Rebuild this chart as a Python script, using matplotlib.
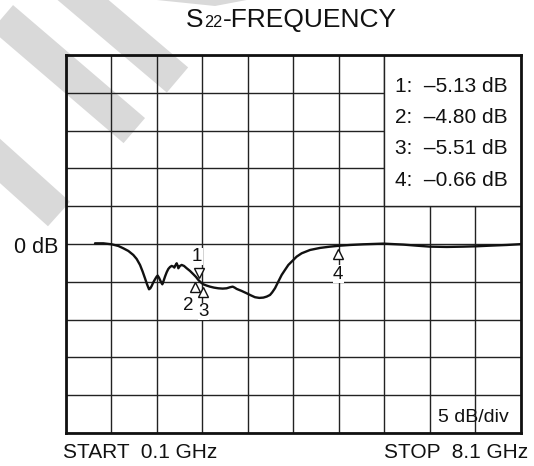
import numpy as np
import matplotlib
matplotlib.use("Agg")
import matplotlib.pyplot as plt
from matplotlib.patches import Polygon, Rectangle
from matplotlib.transforms import ScaledTranslation

# ---------------- data ----------------
freq_ghz = [0.615, 0.761, 0.908, 1.025, 1.113, 1.201, 1.288, 1.347, 1.406, 1.452,
            1.493, 1.529, 1.564, 1.587, 1.611, 1.640, 1.669, 1.698, 1.716, 1.739,
            1.757, 1.780, 1.798, 1.816, 1.845, 1.874, 1.903, 1.933, 1.962, 1.991,
            2.009, 2.032, 2.050, 2.067, 2.079, 2.108, 2.138, 2.179, 2.226, 2.284,
            2.343, 2.390, 2.430, 2.471, 2.518, 2.577, 2.635, 2.706, 2.782, 2.858,
            2.928, 2.987, 3.034, 3.069, 3.104, 3.192, 3.280, 3.350, 3.426, 3.502,
            3.573, 3.631, 3.690, 3.728, 3.778, 3.836, 3.895, 3.953, 4.012, 4.100,
            4.158, 4.246, 4.393, 4.568, 4.744, 4.920, 5.095, 5.330, 5.681, 6.033,
            6.267, 6.501, 6.794, 7.087, 7.321, 7.555, 7.848, 8.100]
s22_db = [0.09, 0.09, -0.04, -0.26, -0.57, -0.92, -1.45, -1.98, -2.77, -3.65,
          -4.53, -5.33, -5.99, -5.86, -5.55, -5.06, -4.67, -4.31, -4.18, -4.45,
          -4.75, -5.11, -5.33, -4.97, -4.31, -3.74, -3.30, -3.04, -2.90, -2.99,
          -3.12, -2.77, -2.55, -2.86, -3.21, -2.90, -2.77, -2.90, -3.21, -3.56,
          -4.00, -4.36, -4.75, -5.06, -5.33, -5.50, -5.64, -5.77, -5.86, -5.90,
          -5.86, -5.72, -5.64, -5.77, -5.94, -6.21, -6.52, -6.78, -7.04, -7.13,
          -7.09, -6.96, -6.74, -6.40, -5.85, -4.97, -4.09, -3.43, -2.77, -2.11,
          -1.67, -1.23, -0.79, -0.52, -0.35, -0.22, -0.13, -0.04, 0.05, -0.08,
          -0.22, -0.35, -0.39, -0.35, -0.30, -0.22, -0.13, -0.02]

marker_ids = ["1", "2", "3", "4"]
marker_freq_ghz = [2.44, 2.38, 2.51, 4.88]
marker_pos_db = [-4.53, -4.97, -5.63, -0.57]
marker_readout_db = [-5.13, -4.80, -5.51, -0.66]
marker_pointing = ["down", "up", "up", "up"]

start_ghz, stop_ghz = 0.1, 8.1
ref_db, db_per_div, n_div = 0, 5, 10

title_parts = ["S", "22", "-FREQUENCY"]
start_label = "START  0.1 GHz"
stop_label = "STOP  8.1 GHz"
ref_label = "0 dB"
scale_label = "5 dB/div"

# ---------------- figure ----------------
plt.rcParams["font.family"] = ["Liberation Sans", "DejaVu Sans"]
W, H = 534, 466
fig = plt.figure(figsize=(W / 100, H / 100), dpi=100)
INK = "#111111"


def fx(px):
    return px / W


def fy(py):
    return 1 - py / H


# watermark stripes (behind everything)
stripe_color = "#d9d9d9"
stripe_lines = [((63, -17), (177.5, 80)), ((2.3, 17.6), (134.3, 130.6)), ((-40, 125), (59, 214))]
stripe_w = 33
for p0, p1 in stripe_lines:
    p0 = np.array(p0, float)
    p1 = np.array(p1, float)
    d = (p1 - p0) / np.linalg.norm(p1 - p0)
    n = np.array([-d[1], d[0]]) * stripe_w / 2
    pts = [p0 + n, p1 + n, p1 - n, p0 - n]
    fig.patches.append(Polygon([(fx(x), fy(y)) for x, y in pts], closed=True,
                               transform=fig.transFigure, fc=stripe_color, ec="none", zorder=-5))
wedge = [(147, -1), (215, 6), (252, -1)]
fig.patches.append(Polygon([(fx(x), fy(y)) for x, y in wedge], closed=True,
                           transform=fig.transFigure, fc=stripe_color, ec="none", zorder=-5))

L, R, T, B = 65.7, 521, 55, 433
ax = fig.add_axes([fx(L), fy(B), fx(R) - fx(L), fy(T) - fy(B)])
ax.set_facecolor("none")
ax.set_xlim(start_ghz, stop_ghz)
lo, hi = ref_db - db_per_div * n_div / 2, ref_db + db_per_div * n_div / 2
ax.set_ylim(lo, hi)
ax.set_xticks(np.linspace(start_ghz, stop_ghz, n_div + 1))
ax.set_yticks(np.linspace(lo, hi, n_div + 1))
ax.tick_params(length=0, labelbottom=False, labelleft=False)
ax.set_axisbelow(True)
ax.grid(True, color="#222222", lw=1.0)
for s in ax.spines.values():
    s.set_linewidth(2.0)
    s.set_color(INK)

# marker readout box (upper right, 3 x 4 divisions)
xdiv = (stop_ghz - start_ghz) / n_div
box = Rectangle((stop_ghz - 3 * xdiv, ref_db + db_per_div), 3 * xdiv, 4 * db_per_div,
                fc="white", ec="#222222", lw=1.0, zorder=1)
ax.add_patch(box)

# trace
ax.plot(freq_ghz, s22_db, color=INK, lw=1.7, zorder=3,
        solid_capstyle="round", solid_joinstyle="round")

# markers
ms = 7.8
label_offsets = {"1": (-1.2, 15.5), "2": (-5.3, -17.4), "3": (0.4, -17.8), "4": (0.4, -18.6)}
for mid, f, v, p in zip(marker_ids, marker_freq_ghz, marker_pos_db, marker_pointing):
    if p == "down":
        tr = ax.transData + ScaledTranslation(0, ms / 2 / 72, fig.dpi_scale_trans)
        mk = "v"
    else:
        tr = ax.transData + ScaledTranslation(0, -ms / 2 / 72, fig.dpi_scale_trans)
        mk = "^"
    ax.plot([f], [v], marker=mk, ms=ms, mfc="white", mec=INK, mew=1.0,
            transform=tr, zorder=4, clip_on=False)
    ox, oy = label_offsets[mid]
    ax.annotate(mid, (f, v), xytext=(ox, oy), textcoords="offset points",
                ha="center", va="center", fontsize=13.5, color=INK, zorder=5,
                bbox=dict(fc="white", ec="none", pad=0.2))

# readout text
baselines = [91.7, 122.7, 154.3, 186.0]
for mid, val, by in zip(marker_ids, marker_readout_db, baselines):
    sign = "\u2013" if val < 0 else ""
    fig.text(fx(395), fy(by), f"{mid}:  {sign}{abs(val):.2f} dB", ha="left", va="baseline",
             fontsize=15, color=INK)

# labels
fig.text(fx(58), fy(252.7), ref_label, ha="right", va="baseline", fontsize=15.5, color=INK)
fig.text(fx(509), fy(422.5), scale_label, ha="right", va="baseline", fontsize=14, color=INK)
fig.text(fx(63.3), fy(457.5), start_label, ha="left", va="baseline", fontsize=15, color=INK)
fig.text(fx(528), fy(457.5), stop_label, ha="right", va="baseline", fontsize=15, color=INK)

# title with small "22"
sizes = [19, 11.7, 19]
r = fig.canvas.get_renderer()
texts = []
widths = []
for s, fs in zip(title_parts, sizes):
    t = fig.text(0, fy(26.7), s, ha="left", va="baseline", fontsize=fs, color=INK)
    texts.append(t)
    widths.append(t.get_window_extent(r).width)
gap = 1.0
total = sum(widths) + gap * (len(widths) - 1)
x0 = 291.5 - total / 2
for t, w in zip(texts, widths):
    t.set_x(fx(x0))
    x0 += w + gap

fig.savefig("out.png", dpi=100)
